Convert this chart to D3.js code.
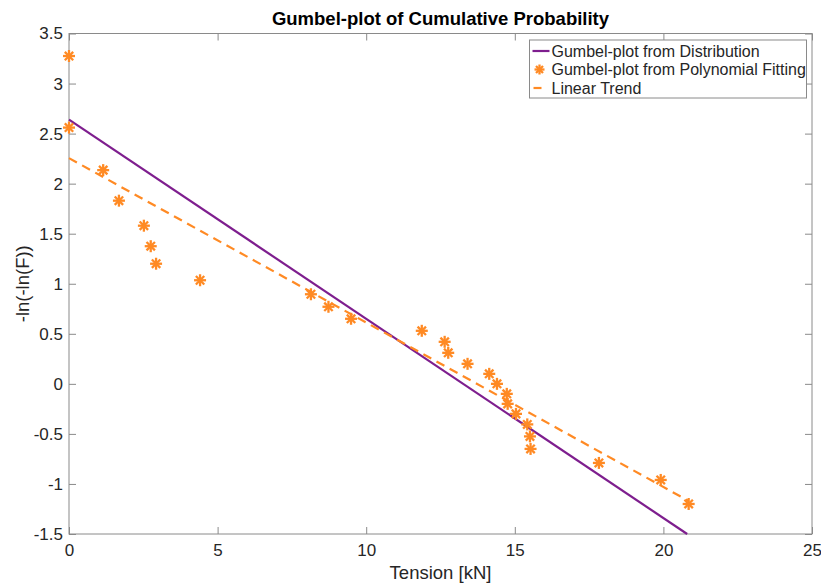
<!DOCTYPE html>
<html>
<head>
<meta charset="utf-8">
<script src="https://cdn.jsdelivr.net/npm/d3@7"></script>
<style>
  body { margin: 0; background: #fff; }
  text { font-family: "Liberation Sans", Arial, sans-serif; }
</style>
</head>
<body>
<div id="chart"></div>
<script>
// tension [kN] and -ln(-ln(F)) from the polynomial fit
var tension = [0, 0, 1.15, 1.68, 2.52, 2.75, 2.93, 4.41, 8.14, 8.73, 9.49, 11.87, 12.64, 12.76,
  13.41, 14.14, 14.40, 14.73, 14.76, 15.04, 15.42, 15.51, 15.53, 17.83, 19.91, 20.85];
var gumbelFit = [3.275, 2.56, 2.135, 1.83, 1.58, 1.375, 1.20, 1.035, 0.895, 0.77, 0.65, 0.53, 0.42, 0.31,
  0.20, 0.10, 0.0, -0.10, -0.20, -0.30, -0.405, -0.525, -0.65, -0.79, -0.96, -1.20];

// straight line from the fitted distribution
var distX = [0, 20.8];
var distY = [2.64, -1.5];

// linear trend through the fitted points
var trendX = [0, 20.85];
var trendY = [2.255, -1.17];

var xTicks = [0, 5, 10, 15, 20, 25];
var yTicks = [-1.5, -1, -0.5, 0, 0.5, 1, 1.5, 2, 2.5, 3, 3.5];

var legendLabels = ["Gumbel-plot from Distribution", "Gumbel-plot from Polynomial Fitting", "Linear Trend"];

var purple = "#7E1E8E";
var orange = "#FF8A24";
var axisCol = "#8a8a8a";
var textCol = "#262626";

var width = 821, height = 583;
var margin = {top: 33.5, right: 9, bottom: 49, left: 69};
var w = width - margin.left - margin.right;
var h = height - margin.top - margin.bottom;

var svg = d3.select("#chart").append("svg")
  .attr("width", width)
  .attr("height", height);

var g = svg.append("g")
  .attr("transform", "translate(" + margin.left + "," + margin.top + ")");

var x = d3.scaleLinear().domain([0, 25]).range([0, w]);
var y = d3.scaleLinear().domain([-1.5, 3.5]).range([h, 0]);

function styleAxis(sel, labels) {
  sel.select(".domain").remove();
  sel.selectAll(".tick line").attr("stroke", axisCol);
  sel.selectAll(".tick text")
    .attr("fill", labels ? textCol : "none")
    .style("font-size", "17px");
}

// plain hyphen for negatives
var fmt = function(d) { return String(d); };

g.append("g")
  .attr("transform", "translate(0," + h + ")")
  .call(d3.axisTop(x).tickValues(xTicks).tickSize(7).tickFormat(""))
  .call(function(s) { styleAxis(s, false); });
g.append("g")
  .attr("transform", "translate(0," + h + ")")
  .call(d3.axisBottom(x).tickValues(xTicks).tickSize(0).tickPadding(10).tickFormat(fmt))
  .call(function(s) { styleAxis(s, true); });
g.append("g")
  .call(d3.axisBottom(x).tickValues(xTicks).tickSize(7).tickFormat(""))
  .call(function(s) { styleAxis(s, false); });

g.append("g")
  .call(d3.axisRight(y).tickValues(yTicks).tickSize(7).tickFormat(""))
  .call(function(s) { styleAxis(s, false); });
g.append("g")
  .call(d3.axisLeft(y).tickValues(yTicks).tickSize(0).tickPadding(6).tickFormat(fmt))
  .call(function(s) { styleAxis(s, true); });
g.append("g")
  .attr("transform", "translate(" + w + ",0)")
  .call(d3.axisLeft(y).tickValues(yTicks).tickSize(7).tickFormat(""))
  .call(function(s) { styleAxis(s, false); });

// box
g.append("rect")
  .attr("width", w).attr("height", h)
  .attr("fill", "none")
  .attr("stroke", axisCol)
  .attr("stroke-width", 1);

var line = d3.line()
  .x(function(d) { return x(d[0]); })
  .y(function(d) { return y(d[1]); });

g.append("path")
  .datum(d3.zip(distX, distY))
  .attr("d", line)
  .attr("fill", "none")
  .attr("stroke", purple)
  .attr("stroke-width", 2.2);

g.append("path")
  .datum(d3.zip(trendX, trendY))
  .attr("d", line)
  .attr("fill", "none")
  .attr("stroke", orange)
  .attr("stroke-width", 2.2)
  .attr("stroke-dasharray", "9,6");

// asterisk marker
function star(sel, r) {
  var arms = [[0, -r, 0, r], [-r, 0, r, 0], [-r * 0.7, -r * 0.7, r * 0.7, r * 0.7], [-r * 0.7, r * 0.7, r * 0.7, -r * 0.7]];
  sel.selectAll("line").data(arms).enter().append("line")
    .attr("x1", function(a) { return a[0]; })
    .attr("y1", function(a) { return a[1]; })
    .attr("x2", function(a) { return a[2]; })
    .attr("y2", function(a) { return a[3]; })
    .attr("stroke", orange)
    .attr("stroke-width", 2.3);
}

g.selectAll(".pt")
  .data(d3.zip(tension, gumbelFit))
  .enter().append("g")
  .attr("class", "pt")
  .attr("transform", function(d) { return "translate(" + x(d[0]) + "," + y(d[1]) + ")"; })
  .each(function() { star(d3.select(this), 6); });

// title and axis labels
svg.append("text")
  .attr("x", margin.left + w / 2)
  .attr("y", 25)
  .attr("text-anchor", "middle")
  .attr("fill", "#000")
  .style("font-size", "18.5px")
  .style("font-weight", "bold")
  .text("Gumbel-plot of Cumulative Probability");

svg.append("text")
  .attr("x", margin.left + w / 2)
  .attr("y", 579)
  .attr("text-anchor", "middle")
  .attr("fill", textCol)
  .style("font-size", "18.5px")
  .text("Tension [kN]");

svg.append("text")
  .attr("transform", "translate(29," + (margin.top + h / 2) + ") rotate(-90)")
  .attr("text-anchor", "middle")
  .attr("fill", textCol)
  .style("font-size", "18.5px")
  .text("-ln(-ln(F))");

// legend
var lg = svg.append("g").attr("transform", "translate(529.5,40)");
lg.append("rect")
  .attr("width", 277).attr("height", 58)
  .attr("fill", "#fff")
  .attr("stroke", axisCol);

var rows = lg.selectAll(".row").data(legendLabels).enter().append("g")
  .attr("transform", function(d, i) { return "translate(0," + (11 + i * 18.5) + ")"; });

rows.append("text")
  .attr("x", 22)
  .attr("dy", "0.36em")
  .attr("fill", textCol)
  .style("font-size", "16px")
  .text(function(d) { return d; });

rows.filter(function(d, i) { return i === 0; }).append("line")
  .attr("x1", 3).attr("x2", 20)
  .attr("stroke", purple).attr("stroke-width", 2.2);
rows.filter(function(d, i) { return i === 1; }).append("g")
  .attr("transform", "translate(10,0)")
  .each(function() { star(d3.select(this), 5); });
rows.filter(function(d, i) { return i === 2; }).append("line")
  .attr("x1", 4).attr("x2", 12)
  .attr("stroke", orange).attr("stroke-width", 2.2);
</script>
</body>
</html>
